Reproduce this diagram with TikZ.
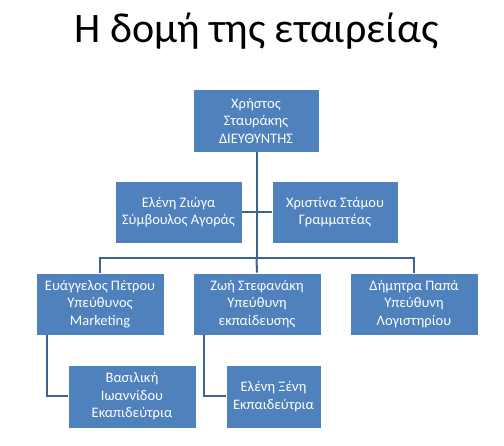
\documentclass[tikz,border=0pt]{standalone}
\usepackage{fontspec}
\setmainfont{Carlito}
\definecolor{boxblue}{HTML}{4F81BD}
\definecolor{lineblue}{HTML}{3A6494}
\begin{document}
\begin{tikzpicture}[x=1pt,y=-1pt,
  orgbox/.style={fill=boxblue,draw=white,line width=0.8pt,text=white,align=center,
    font=\fontsize{14.5}{17.5}\selectfont,inner sep=0pt},
  link/.style={draw=lineblue,line width=2pt}]
\useasboundingbox (0,0) rectangle (504,446);
\node[font=\fontsize{42}{50}\selectfont,anchor=base] (title) at (256.5,43) {Η δομή της εταιρείας};
\node[orgbox,minimum width=126pt,minimum height=63pt] (ceo) at (256,120.5) {Χρήστος\\Σταυράκης\\ΔΙΕΥΘΥΝΤΗΣ};
\node[orgbox,minimum width=127pt,minimum height=62pt] (adv) at (178.5,212) {Ελένη Ζιώγα\\Σύμβουλος Αγοράς};
\node[orgbox,minimum width=126pt,minimum height=62pt] (sec) at (335,212) {Χριστίνα Στάμου\\Γραμματέας};
\node[orgbox,minimum width=128pt,minimum height=62pt] (mkt) at (100,304) {Ευάγγελος Πέτρου\\Υπεύθυνος\\Marketing};
\node[orgbox,minimum width=128pt,minimum height=62pt] (edu) at (257,304) {Ζωή Στεφανάκη\\Υπεύθυνη\\εκπαίδευσης};
\node[orgbox,minimum width=128pt,minimum height=62pt] (acc) at (414,304) {Δήμητρα Παπά\\Υπεύθυνη\\Λογιστηρίου};
\node[orgbox,minimum width=128pt,minimum height=63pt] (vas) at (132,396.5) {Βασιλική\\Ιωαννίδου\\Εκαπιδεύτρια};
\node[orgbox,minimum width=95pt,minimum height=63pt] (xen) at (273.5,396.5) {Ελένη Ξένη\\Εκπαιδεύτρια};
\coordinate (hub) at (256.5,258);
\draw[link] (ceo.south -| hub) -- (hub);
\draw[link] (adv.east) -- (sec.west);
\draw[link] (mkt.north) |- (hub) -| (acc.north);
\draw[link] (hub) -- (edu.north);
\draw[link] ([xshift=-53pt]mkt.south) |- (vas.west);
\draw[link] ([xshift=-53pt]edu.south) |- (xen.west);
\end{tikzpicture}
\end{document}
